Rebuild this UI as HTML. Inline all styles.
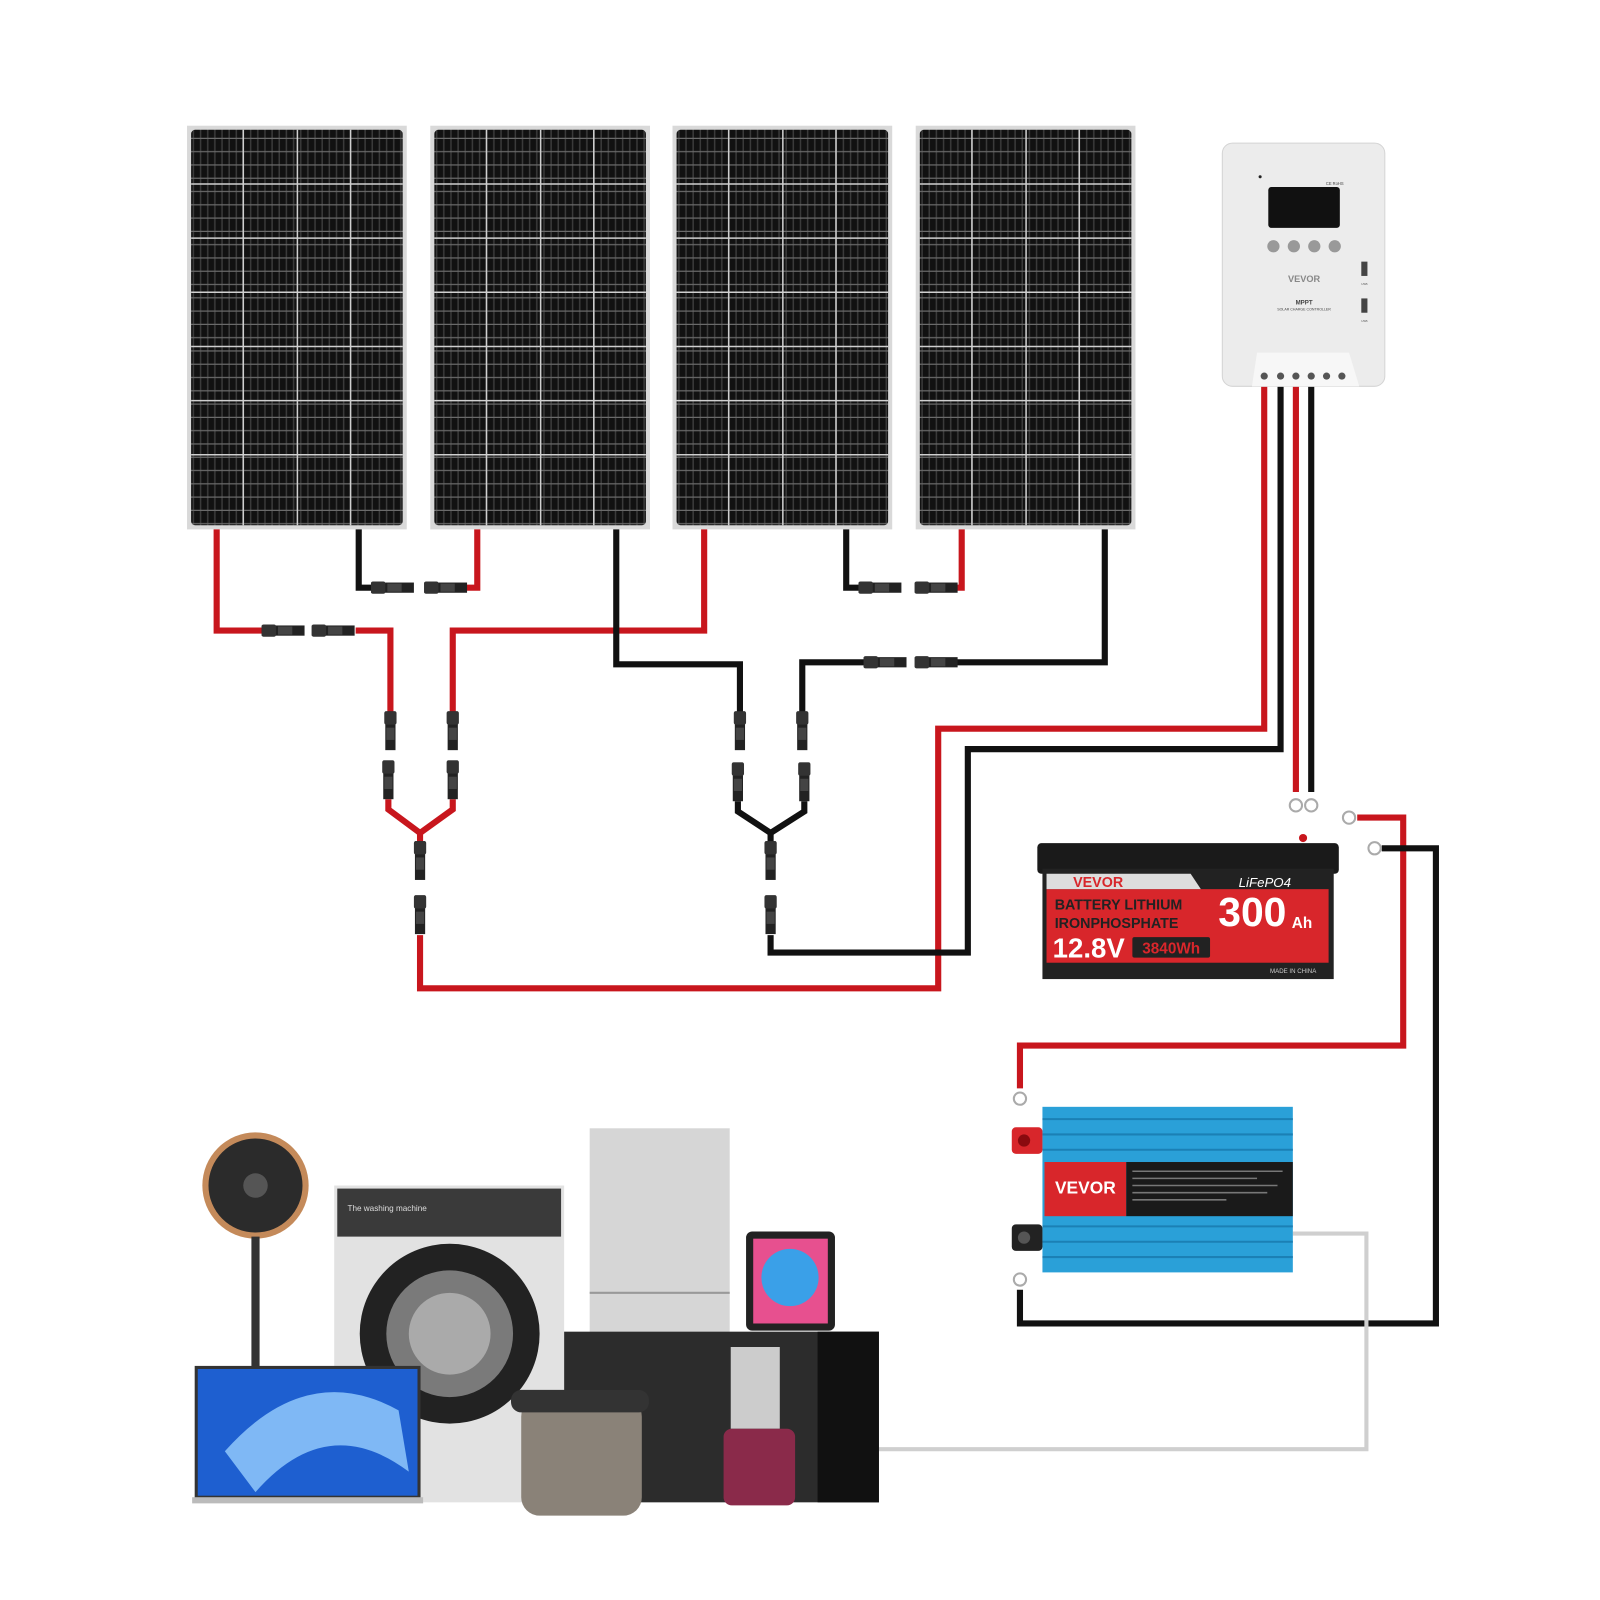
<!DOCTYPE html>
<html><head><meta charset="utf-8"><style>
html,body{margin:0;padding:0;background:#fff;}
svg{display:block;}
text{font-family:"Liberation Sans",sans-serif;}
</style></head><body>
<svg width="1600" height="1600" viewBox="0 0 1600 1600" xmlns="http://www.w3.org/2000/svg">
<defs>
<pattern id="cells" width="7" height="13" patternUnits="userSpaceOnUse">
<rect width="7" height="13" fill="#111"/>
<rect x="5.5" width="1.5" height="13" fill="#3a3a3a"/>
<rect y="11.8" width="7" height="1.2" fill="#6a6a6a"/>
</pattern>
<g id="panel">
<rect x="0" y="0" width="215" height="395" fill="#d9d9d9"/>
<rect x="4" y="4" width="207" height="387" rx="4" fill="url(#cells)"/>
<g stroke="#cfcfcf" stroke-width="1.5">
<line x1="55" y1="4" x2="55" y2="391"/><line x1="108" y1="4" x2="108" y2="391"/><line x1="160" y1="4" x2="160" y2="391"/>
<line x1="4" y1="57" x2="211" y2="57"/><line x1="4" y1="110" x2="211" y2="110"/><line x1="4" y1="163" x2="211" y2="163"/><line x1="4" y1="216" x2="211" y2="216"/><line x1="4" y1="269" x2="211" y2="269"/><line x1="4" y1="322" x2="211" y2="322"/>
</g>
</g>
<g id="conn"><rect x="0" y="-5" width="42" height="10" fill="#222"/><rect x="0" y="-6" width="14" height="12" rx="2" fill="#333"/><rect x="16" y="-4" width="14" height="8" fill="#444"/></g>
<g id="vconn"><rect x="-5" y="0" width="10" height="38" fill="#222"/><rect x="-6" y="0" width="12" height="13" rx="2" fill="#333"/><rect x="-4" y="16" width="8" height="12" fill="#444"/></g>
</defs>
<g transform="scale(1.022)">
<use href="#panel" x="183" y="123"/>
<use href="#panel" x="421" y="123"/>
<use href="#panel" x="658" y="123"/>
<use href="#panel" x="896" y="123"/>

<g fill="none" stroke-width="6" stroke-linejoin="miter">
<polyline stroke="#c8161d" points="212,518 212,617 258,617"/>
<polyline stroke="#c8161d" points="348,617 382,617 382,700"/>
<polyline stroke="#c8161d" points="689,518 689,617 443,617 443,700"/>
<polyline stroke="#c8161d" points="380,782 380,792 411,815 443,792 443,782"/>
<polyline stroke="#c8161d" points="411,815 411,825"/>
<polyline stroke="#c8161d" points="411,915 411,967 918,967 918,713 1237,713 1237,378"/>
<polyline stroke="#c8161d" points="467,518 467,575 455,575"/>
<polyline stroke="#c8161d" points="941,518 941,575 935,575"/>
<polyline stroke="#111" points="351,518 351,575 365,575"/>
<polyline stroke="#111" points="828,518 828,575 840,575"/>
<polyline stroke="#111" points="603,518 603,650 724,650 724,700"/>
<polyline stroke="#111" points="1081,518 1081,648 935,648"/>
<polyline stroke="#111" points="847,648 785,648 785,700"/>
<polyline stroke="#111" points="722,784 722,794 754,815 787,794 787,784"/>
<polyline stroke="#111" points="754,815 754,825"/>
<polyline stroke="#111" points="754,915 754,932 947,932 947,733 1253,733 1253,378"/>
<polyline stroke="#c8161d" points="1268,378 1268,775"/>
<polyline stroke="#111" points="1283,378 1283,775"/>
<polyline stroke="#c8161d" points="1328,800 1373,800 1373,1023 998,1023 998,1065"/>
<polyline stroke="#111" points="1352,830 1405,830 1405,1295 998,1295 998,1262"/>
<polyline stroke="#cfcfcf" stroke-width="4" points="1265,1207 1337,1207 1337,1418 860,1418"/>
</g>
<use href="#conn" x="256" y="617"/><use href="#conn" x="305" y="617"/>
<use href="#conn" x="363" y="575"/><use href="#conn" x="415" y="575"/>
<use href="#conn" x="840" y="575"/><use href="#conn" x="895" y="575"/>
<use href="#conn" x="845" y="648"/><use href="#conn" x="895" y="648"/>
<use href="#vconn" x="382" y="696"/><use href="#vconn" x="443" y="696"/>
<use href="#vconn" x="380" y="744"/><use href="#vconn" x="443" y="744"/>
<use href="#vconn" x="724" y="696"/><use href="#vconn" x="785" y="696"/>
<use href="#vconn" x="722" y="746"/><use href="#vconn" x="787" y="746"/>
<use href="#vconn" x="411" y="823"/><use href="#vconn" x="411" y="876"/>
<use href="#vconn" x="754" y="823"/><use href="#vconn" x="754" y="876"/>
<g fill="none" stroke="#aaa" stroke-width="2">
<circle cx="1268" cy="788" r="6"/><circle cx="1283" cy="788" r="6"/>
<circle cx="1320" cy="800" r="6"/><circle cx="1345" cy="830" r="6"/>
<circle cx="998" cy="1075" r="6"/><circle cx="998" cy="1252" r="6"/>
</g>

<rect x="1196" y="140" width="159" height="238" rx="10" fill="#ececec" stroke="#d4d4d4"/>
<polygon points="1225,378 1230,345 1320,345 1330,378" fill="#f7f7f7"/>
<rect x="1241" y="183" width="70" height="40" rx="3" fill="#111"/>
<g fill="#999"><circle cx="1246" cy="241" r="6"/><circle cx="1266" cy="241" r="6"/><circle cx="1286" cy="241" r="6"/><circle cx="1306" cy="241" r="6"/></g>
<text x="1276" y="276" font-size="9" font-weight="bold" fill="#888" text-anchor="middle">VEVOR</text>
<text x="1276" y="298" font-size="6" font-weight="bold" fill="#444" text-anchor="middle">MPPT</text>
<text x="1276" y="304" font-size="3.5" fill="#444" text-anchor="middle">SOLAR CHARGE CONTROLLER</text>
<text x="1306" y="181" font-size="4" fill="#444" text-anchor="middle">CE RoHS</text>
<circle cx="1233" cy="173" r="1.5" fill="#222"/>
<rect x="1332" y="256" width="6" height="14" fill="#444"/><rect x="1332" y="292" width="6" height="14" fill="#444"/>
<text x="1335" y="279" font-size="3" fill="#555" text-anchor="middle">USB</text>
<text x="1335" y="315" font-size="3" fill="#555" text-anchor="middle">USB</text>
<g fill="#555"><circle cx="1237" cy="368" r="3.5"/><circle cx="1253" cy="368" r="3.5"/><circle cx="1268" cy="368" r="3.5"/><circle cx="1283" cy="368" r="3.5"/><circle cx="1298" cy="368" r="3.5"/><circle cx="1313" cy="368" r="3.5"/></g>

<rect x="1015" y="825" width="295" height="30" rx="4" fill="#1a1a1a"/>
<rect x="1020" y="850" width="285" height="108" fill="#222"/>
<rect x="1024" y="870" width="276" height="72" fill="#d8262b"/>
<polygon points="1024,855 1165,855 1175,870 1024,870" fill="#ddd"/>
<text x="1050" y="868" font-size="14" font-weight="bold" fill="#d8262b">VEVOR</text>
<text x="1212" y="868" font-size="13" font-style="italic" fill="#fff">LiFePO4</text>
<text x="1032" y="890" font-size="14" font-weight="bold" fill="#222">BATTERY LITHIUM</text>
<text x="1032" y="908" font-size="14" font-weight="bold" fill="#222">IRONPHOSPHATE</text>
<text x="1192" y="906" font-size="40" font-weight="bold" fill="#fff">300</text>
<text x="1264" y="908" font-size="15" font-weight="bold" fill="#fff">Ah</text>
<text x="1030" y="937" font-size="27" font-weight="bold" fill="#fff">12.8V</text>
<rect x="1108" y="917" width="76" height="20" rx="2" fill="#222"/>
<text x="1146" y="933" font-size="15" font-weight="bold" fill="#d8262b" text-anchor="middle">3840Wh</text>
<text x="1288" y="952" font-size="6" fill="#ccc" text-anchor="end">MADE IN CHINA</text>
<circle cx="1275" cy="820" r="4" fill="#c8161d"/>

<rect x="1020" y="1083" width="245" height="162" fill="#2aa0d8"/>
<g stroke="#1b80b5" stroke-width="2"><line x1="1020" y1="1095" x2="1265" y2="1095"/><line x1="1020" y1="1110" x2="1265" y2="1110"/><line x1="1020" y1="1125" x2="1265" y2="1125"/><line x1="1020" y1="1200" x2="1265" y2="1200"/><line x1="1020" y1="1215" x2="1265" y2="1215"/><line x1="1020" y1="1230" x2="1265" y2="1230"/></g>
<rect x="1022" y="1137" width="80" height="53" fill="#d8262b"/>
<rect x="1102" y="1137" width="163" height="53" fill="#1a1a1a"/>
<g stroke="#777" stroke-width="1.5"><line x1="1108" y1="1146" x2="1255" y2="1146"/><line x1="1108" y1="1153" x2="1230" y2="1153"/><line x1="1108" y1="1160" x2="1250" y2="1160"/><line x1="1108" y1="1167" x2="1240" y2="1167"/><line x1="1108" y1="1174" x2="1200" y2="1174"/></g>
<text x="1062" y="1168" font-size="17" font-weight="bold" fill="#fff" text-anchor="middle">VEVOR</text>
<rect x="990" y="1103" width="30" height="26" rx="4" fill="#d8262b"/><circle cx="1002" cy="1116" r="6" fill="#8a0a0f"/>
<rect x="990" y="1198" width="30" height="26" rx="4" fill="#222"/><circle cx="1002" cy="1211" r="6" fill="#555"/>

<circle cx="250" cy="1160" r="52" fill="#c48a5a"/><circle cx="250" cy="1160" r="46" fill="#2b2b2b"/><circle cx="250" cy="1160" r="12" fill="#555"/>
<rect x="246" y="1210" width="8" height="130" fill="#333"/>
<rect x="327" y="1160" width="225" height="310" fill="#e2e2e2"/>
<rect x="330" y="1163" width="219" height="47" fill="#3a3a3a"/>
<text x="340" y="1185" font-size="8" fill="#ddd">The washing machine</text>
<circle cx="440" cy="1305" r="88" fill="#222"/><circle cx="440" cy="1305" r="62" fill="#7a7a7a"/><circle cx="440" cy="1305" r="40" fill="#aaa"/>
<rect x="577" y="1104" width="137" height="200" fill="#d6d6d6"/><line x1="577" y1="1265" x2="714" y2="1265" stroke="#999" stroke-width="2"/>
<rect x="730" y="1205" width="87" height="97" rx="6" fill="#222"/><rect x="737" y="1212" width="73" height="83" fill="#e7508f"/><circle cx="773" cy="1250" r="28" fill="#3aa0e8"/>
<rect x="552" y="1303" width="308" height="167" fill="#2c2c2c"/><rect x="800" y="1303" width="60" height="167" fill="#111"/>
<rect x="192" y="1338" width="218" height="127" fill="#1e5fd0" stroke="#333" stroke-width="3"/>
<path d="M220 1420 Q300 1330 390 1380 L400 1440 Q320 1380 250 1460 Z" fill="#7fb8f5"/>
<rect x="188" y="1465" width="226" height="6" fill="#bbb"/>
<rect x="510" y="1368" width="118" height="115" rx="18" fill="#8a8278"/><rect x="500" y="1360" width="135" height="22" rx="10" fill="#333"/>
<rect x="715" y="1318" width="48" height="80" fill="#ccc"/><rect x="708" y="1398" width="70" height="75" rx="8" fill="#8a2a4a"/>
</g>
</svg>
</body></html>
